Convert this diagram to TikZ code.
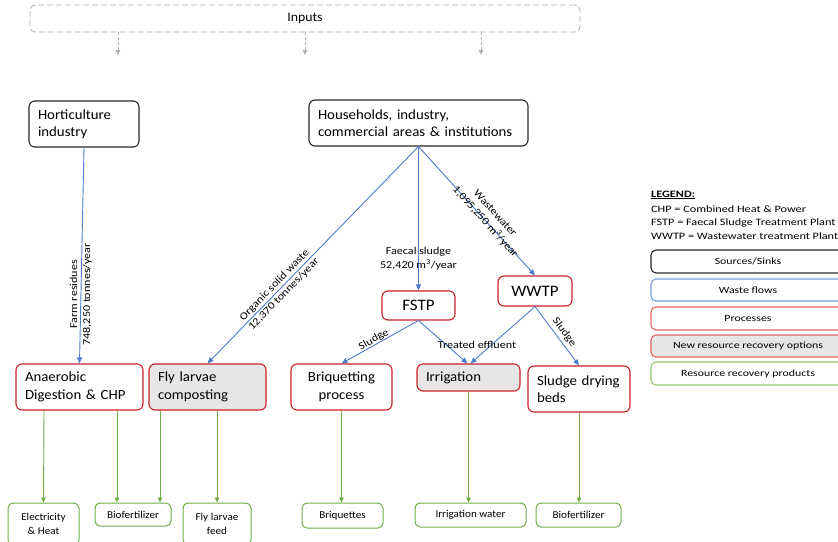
\documentclass[tikz,border=0pt]{standalone}
\usepackage{fontspec}
\setmainfont{Carlito}[FakeStretch=1.06]
\newfontfamily\lblfont{Carlito}[FakeStretch=1.15]
\newfontfamily\legfont{Carlito}[FakeStretch=1.25]
\usetikzlibrary{arrows.meta}
\definecolor{flowblue}{RGB}{78,124,205}
\definecolor{procred}{RGB}{204,32,39}
\definecolor{prodgreen}{RGB}{112,173,71}
\definecolor{newgray}{RGB}{230,230,230}
\definecolor{dashgray}{RGB}{175,175,175}
\definecolor{srcblack}{RGB}{40,40,40}
\definecolor{legred}{RGB}{222,100,100}
\definecolor{legblue}{RGB}{120,155,220}
\definecolor{leggreen}{RGB}{150,200,110}
\begin{document}
\begin{tikzpicture}[x=1pt,y=-1pt,
  boxbase/.style={rounded corners=6pt, line width=1.1pt, inner xsep=9pt, inner ysep=2pt},
  src/.style={boxbase, draw=srcblack, align=left, font=\fontsize{14}{17}\selectfont},
  proc/.style={boxbase, draw=procred, font=\fontsize{14}{17.5}\selectfont},
  newproc/.style={proc, fill=newgray},
  prod/.style={rounded corners=5pt, draw=prodgreen, line width=1pt, inner sep=2pt,
    align=center, font=\fontsize{10.5}{14}\selectfont},
  flow/.style={draw=flowblue, line width=0.9pt, -{Triangle[length=6pt,width=5pt]}},
  outflow/.style={draw=prodgreen, line width=0.9pt, -{Triangle[length=5pt,width=4.5pt]}},
  inflow/.style={draw=dashgray, line width=0.8pt, dashed, dash pattern=on 3pt off 2pt,
    -{Triangle[length=5pt,width=4.5pt]}},
  lbl/.style={font=\lblfont\fontsize{10.5}{13}\selectfont, inner sep=1pt, align=center},
  legbox/.style={rounded corners=5pt, line width=1.1pt, minimum width=194pt,
    font=\legfont\fontsize{9.5}{11}\selectfont},
  legtxt/.style={anchor=west, inner sep=0pt, font=\legfont\fontsize{9.8}{11}\selectfont}]

\clip (0,0) rectangle (838,541);
\fill[white] (0,0) rectangle (838,541);

% inputs
\node[draw=dashgray, dashed, dash pattern=on 6pt off 3pt, line width=0.9pt,
  rounded corners=5pt, minimum width=550pt, minimum height=27pt,
  font=\fontsize{13}{15}\selectfont] (inputs) at (305,18.5) {Inputs};
\coordinate (in1) at (118,55);
\coordinate (in2) at (305,55);
\coordinate (in3) at (481,55);
\draw[inflow] ([xshift=-187pt]inputs.south) -- (in1);
\draw[inflow] (inputs.south) -- (in2);
\draw[inflow] ([xshift=176pt]inputs.south) -- (in3);

% sources
\node[src, text width=92pt, minimum height=46pt] (hort) at (84,124)
  {\mbox{Horticulture}\\\mbox{industry}};
\node[src, text width=201pt, minimum height=46pt] (hh) at (418.5,123)
  {\mbox{Households, industry,}\\\mbox{commercial areas \& institutions}};

% treatment plants
\node[proc, text width=55pt, align=center, minimum height=29pt,
  font=\fontsize{16}{19}\selectfont] (fstp) at (418.5,305.5) {FSTP};
\node[proc, text width=56pt, align=center, minimum height=30pt,
  font=\fontsize{16}{19}\selectfont] (wwtp) at (535,291) {WWTP};

% processes
\node[proc, text width=109pt, align=left, minimum height=46pt] (ad) at (79.5,387)
  {\mbox{Anaerobic}\\\mbox{Digestion \& CHP}};
\node[newproc, text width=99pt, align=left, minimum height=46pt] (flc) at (207.5,387)
  {\mbox{Fly larvae}\\\mbox{composting}};
\node[proc, text width=83pt, align=center, minimum height=46pt] (briq) at (341.5,387)
  {\mbox{Briquetting}\\\mbox{process}};
\node[newproc, text width=85pt, align=left, minimum height=27pt] (irr) at (468.5,377.5)
  {Irrigation};
\node[proc, text width=84pt, align=left, minimum height=46pt] (sdb) at (579,389)
  {\mbox{Sludge drying}\\\mbox{beds}};

% products
\node[prod, minimum width=71pt, minimum height=42pt] (eh) at (43.5,524)
  {Electricity\\\& Heat};
\node[prod, minimum width=76pt, minimum height=23pt] (bio1) at (133,514.5)
  {Biofertilizer};
\node[prod, minimum width=68pt, minimum height=42pt] (flf) at (217,524)
  {Fly larvae\\feed};
\node[prod, minimum width=81pt, minimum height=25pt] (briqs) at (342.5,515.5)
  {Briquettes};
\node[prod, minimum width=111pt, minimum height=24pt] (iw) at (470.5,515)
  {Irrigation water};
\node[prod, minimum width=85pt, minimum height=24pt] (bio2) at (578.5,515)
  {Biofertilizer};

% waste flows
\draw[flow] (hort.south) -- node[lbl, rotate=90, pos=0.68]
  {Farm residues\\748,250 tonnes/year} (ad.north);
\draw[flow] (hh.south) -- node[lbl, sloped, pos=0.66]
  {Organic solid waste\\12,370 tonnes/year} (flc.north);
\draw[flow] (hh.south) -- node[lbl, pos=0.78, font=\lblfont\fontsize{10.5}{14}\selectfont]
  {Faecal sludge\\52,420 m\textsuperscript{3}/year} (fstp.north);
\draw[flow] (hh.south) -- node[lbl, sloped, pos=0.58, above=-7pt]
  {Wastewater\\1,095,250 m\textsuperscript{3}/year} (wwtp.north);
\draw[flow] (fstp.south) -- node[lbl, sloped, pos=0.55, above=-1pt] {Sludge} (briq.north);
\draw[flow] (fstp.south) -- ([xshift=-1pt]irr.north);
\draw[flow] (wwtp.south) -- ([xshift=2pt]irr.north);
\draw[flow] (wwtp.south) -- node[lbl, sloped, pos=0.52, above=2pt] {Sludge} (sdb.north);
\node[lbl] (te) at (477,345) {Treated effluent};

% recovered products
\draw[outflow] ([xshift=-35.5pt]ad.south) -- (eh.north);
\draw[outflow] ([xshift=37.5pt]ad.south) -- ([xshift=-16pt]bio1.north);
\draw[outflow] ([xshift=-47.5pt]flc.south) -- ([xshift=27pt]bio1.north);
\draw[outflow] ([xshift=9.5pt]flc.south) -- (flf.north);
\draw[outflow] (briq.south) -- (briq.south |- briqs.north);
\draw[outflow] (irr.south) -- (irr.south |- iw.north);
\draw[outflow] (sdb.south) -- (sdb.south |- bio2.north);

% legend
\node[legtxt] (lg0) at (651,195) {\textbf{\underline{LEGEND:}}};
\node[legtxt] (lg1) at (651,209) {CHP = Combined Heat \& Power};
\node[legtxt] (lg2) at (651,223) {FSTP = Faecal Sludge Treatment Plant};
\node[legtxt] (lg3) at (651,236.5) {WWTP = Wastewater treatment Plant};
\node[legbox, draw=srcblack, minimum height=23pt] (lss) at (748,261.5) {Sources/Sinks};
\node[legbox, draw=legblue, minimum height=22pt] (lwf) at (748,290) {Waste flows};
\node[legbox, draw=legred, minimum height=23pt] (lpr) at (748,318.5) {Processes};
\node[legbox, draw=legred, fill=newgray, minimum height=22pt] (lnr) at (748,346)
  {New resource recovery options};
\node[legbox, draw=leggreen, minimum height=23pt] (lrp) at (748,373.5) {Resource recovery products};
\end{tikzpicture}
\end{document}
